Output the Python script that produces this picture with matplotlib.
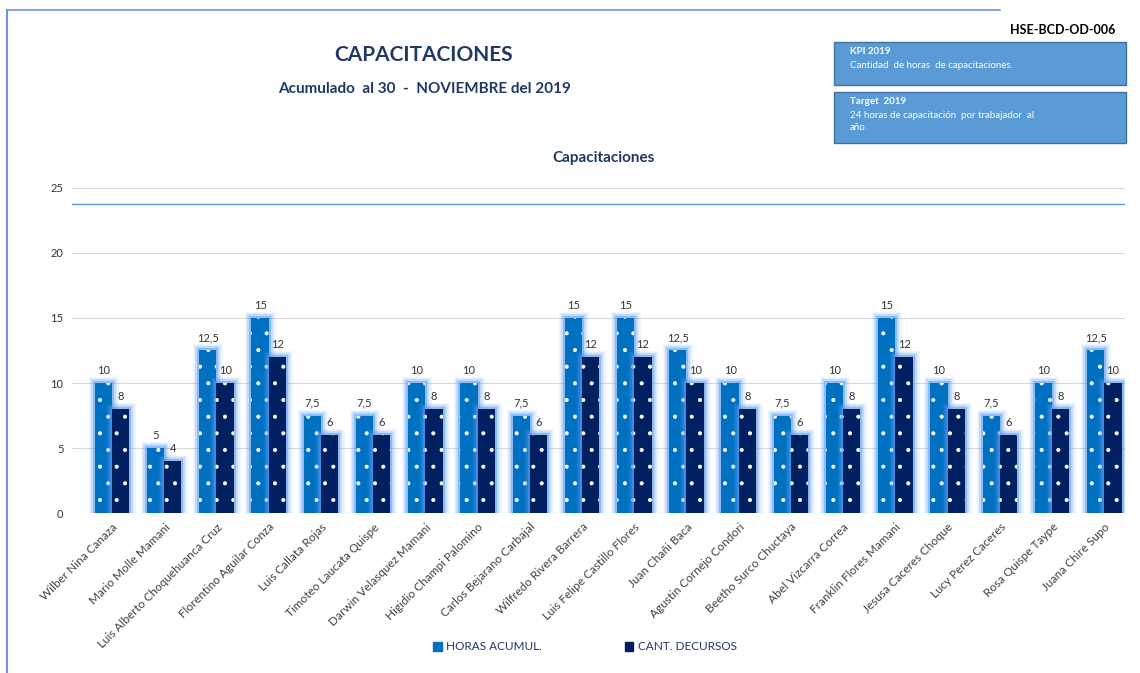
import numpy as np
import matplotlib
matplotlib.use("Agg")
import matplotlib.pyplot as plt
import matplotlib.patheffects as pe
from matplotlib.patches import FancyBboxPatch, Rectangle
from matplotlib.lines import Line2D

plt.rcParams["font.family"] = ["Lato", "DejaVu Sans"]
plt.rcParams["hatch.linewidth"] = 0.5

names = ["Wilber Nina Canaza", "Mario Molle Mamani", "Luis Alberto Choquehuanca Cruz",
         "Florentino Aguilar Conza", "Luis Callata Rojas", "Timoteo Laucata Quispe",
         "Darwin Velasquez Mamani", "Higidio Champi Palomino", "Carlos Bejarano Carbajal",
         "Wilfredo Rivera Barrera", "Luis Felipe Castillo Flores", "Juan Chañi Baca",
         "Agustin Cornejo Condori", "Beetho Surco Chuctaya", "Abel Vizcarra Correa",
         "Franklin Flores Mamani", "Jesusa Caceres Choque", "Lucy Perez Caceres",
         "Rosa Quispe Taype", "Juana Chire Supo"]
horas = [10, 5, 12.5, 15, 7.5, 7.5, 10, 10, 7.5, 15, 15, 12.5, 10, 7.5, 10, 15, 10, 7.5, 10, 12.5]
cursos = [8, 4, 10, 12, 6, 6, 8, 8, 6, 12, 12, 10, 8, 6, 8, 12, 8, 6, 8, 10]
target = 23.8
yticks = [0, 5, 10, 15, 20, 25]

c_horas = "#0070C0"
c_cursos = "#002060"
glow = "#5A9CF2"

fig = plt.figure(figsize=(11.4, 6.73), dpi=100)
ax = fig.add_axes([0.063, 0.2377, 0.924, 0.483])

x = np.arange(len(names))
w = 0.33
# soft glow: a few wide strokes with low alpha
fx = [pe.withStroke(linewidth=9, foreground=glow, alpha=0.12),
      pe.withStroke(linewidth=6, foreground=glow, alpha=0.25),
      pe.withStroke(linewidth=3, foreground=glow, alpha=0.5)]

b1 = ax.bar(x - w / 2, horas, w, color=c_horas, edgecolor="white", linewidth=0,
            hatch=".", zorder=3, path_effects=fx)
b2 = ax.bar(x + w / 2, cursos, w, color=c_cursos, edgecolor="white", linewidth=0,
            hatch=".", zorder=3, path_effects=fx)

fmt = lambda v: ("%g" % v).replace(".", ",")
for bars, vals in ((b1, horas), (b2, cursos)):
    for r, v in zip(bars, vals):
        ax.text(r.get_x() + r.get_width() / 2, v + 0.55, fmt(v), ha="center", va="bottom",
                fontsize=8, color="#333333", zorder=5)

ax.axhline(target, color="#5B9BD5", linewidth=1.0, zorder=2)

ax.set_ylim(0, 25)
ax.set_xlim(-0.77, 19.4)
ax.set_yticks(yticks)
ax.set_yticklabels([str(t) for t in yticks], fontsize=8, color="#333333")
ax.set_xticks(x)
ax.set_xticklabels(names, rotation=45, ha="right", rotation_mode="anchor",
                   fontsize=8.5, color="#404040")
ax.tick_params(length=0, pad=6)
ax.grid(axis="y", color="#D9D9D9", linewidth=0.8, zorder=0)
for s in ax.spines.values():
    s.set_visible(False)

# titles
fig.text(424 / 1140, 1 - 55 / 673, "CAPACITACIONES", ha="center", va="center",
         fontsize=15, fontweight="bold", color="#1F3864")
fig.text(424 / 1140, 1 - 89 / 673, "Acumulado  al 30  -  NOVIEMBRE del 2019", ha="center",
         va="center", fontsize=11, fontweight="bold", color="#1F3864")
fig.text(604 / 1140, 1 - 158 / 673, "Capacitaciones", ha="center", va="center",
         fontsize=11, fontweight="bold", color="#1F3864")
fig.text(1063 / 1140, 1 - 30 / 673, "HSE-BCD-OD-006", ha="center", va="center",
         fontsize=9, fontweight="bold", color="black")

# info boxes
for (y0, y1, lines) in [(42, 85, ["KPI 2019", "Cantidad  de horas  de capacitaciones."]),
                        (92, 143, ["Target  2019", "24 horas de capacitación  por trabajador  al",
                                   "año."])]:
    bx = FancyBboxPatch((834 / 1140, 1 - y1 / 673), 292 / 1140, (y1 - y0) / 673,
                        boxstyle="square,pad=0", transform=fig.transFigure,
                        facecolor="#5B9BD5", edgecolor="#41719C", linewidth=1.0)
    fig.patches.append(bx)
    for i, t in enumerate(lines):
        fig.text(850 / 1140, 1 - (y0 + 10 + i * 13) / 673, t, ha="left", va="center",
                 fontsize=7, color="white", fontweight="bold" if i == 0 else "normal")

# legend
handles = [Rectangle((0, 0), 1, 1, color=c_horas), Rectangle((0, 0), 1, 1, color=c_cursos)]
fig.legend(handles, ["HORAS ACUMUL.", "CANT. DECURSOS"], loc="center",
           bbox_to_anchor=(585 / 1140, 1 - 647 / 673), ncol=2, frameon=False,
           fontsize=8.5, handlelength=0.7, handleheight=0.7, handletextpad=0.4,
           columnspacing=7, labelcolor="#1F3864")

# frame lines
fig.lines.append(Line2D([7 / 1140, 7 / 1140], [0, 1 - 10 / 673], transform=fig.transFigure,
                        color="#6F95E0", linewidth=1.5))
fig.lines.append(Line2D([7 / 1140, 1000 / 1140], [1 - 10 / 673, 1 - 10 / 673],
                        transform=fig.transFigure, color="#6F95E0", linewidth=1.2))

fig.savefig("out.png", dpi=100)
